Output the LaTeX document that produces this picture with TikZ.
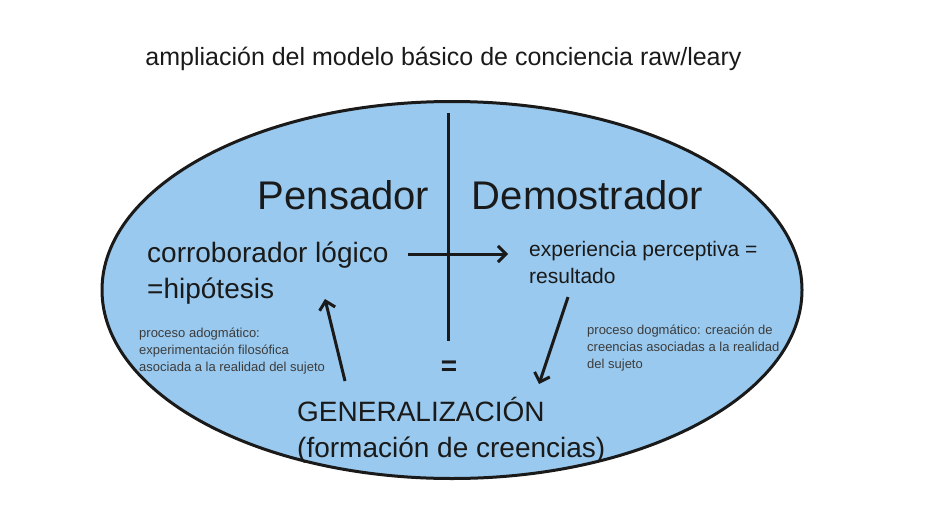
\documentclass[tikz,border=0pt]{standalone}
\usepackage{fontspec}
\setmainfont{Liberation Sans}
\usetikzlibrary{shapes.geometric,arrows.meta,positioning}

\definecolor{ovalblue}{RGB}{153,201,238}
\definecolor{ink}{RGB}{26,26,26}

\begin{document}
\begin{tikzpicture}[x=1pt,y=-1pt]
				\tikzstyle{Oval}	= [ellipse, draw=ink, line width=3pt, fill=ovalblue, minimum width=700pt, minimum height=377pt, inner sep=0pt]
				\tikzstyle{Txt}		= [inner sep=0pt, text=ink, align=left, anchor=base west]
				\tikzstyle{Big}		= [font=\fontsize{40}{48}\selectfont, anchor=base]
				\tikzstyle{Mid}		= [font=\fontsize{28}{36}\selectfont]
				\tikzstyle{Norm}	= [font=\fontsize{21}{26.5}\selectfont]
				\tikzstyle{Small}	= [font=\fontsize{13}{17}\selectfont, text=ink!85]
				\tikzstyle{Bar}		= [line width=3pt, draw=ink]
				\tikzstyle{Arr}		= [-{Straight Barb[length=8pt,width=16pt]}, line width=3pt, draw=ink]

				\useasboundingbox (0,0) rectangle (925,511);

				\node (title) at (443.5,65) [Txt][anchor=base][font=\fontsize{25}{30}\selectfont] {ampliación del modelo básico de conciencia raw/leary};

				\node (oval) at (452,290) [Oval] {};

				\node (pens) at (343.5,209) [Txt][Big] {Pensador};
				\node (demo) at (587.5,209) [Txt][Big] {Demostrador};

				% base anchor = last line
				\node (corr) at (147,298) [Txt][Mid] {corroborador lógico\\=hipótesis};
				\node (exp) at (529,283) [Txt][Norm] {experiencia perceptiva =\\resultado};
				\node (gen) at (297,457) [Txt][Mid] {GENERALIZACIÓN\\(formación de creencias)};
				\node (eq) at (449,368) [Txt][anchor=center][font=\fontsize{28}{28}\selectfont\bfseries] {=};

				\node (adog) at (139,371) [Txt][Small] {proceso adogmático:\\experimentación filosófica\\asociada a la realidad del sujeto};
				\node (dog) at (587,368) [Txt][Small] {proceso dogmático: creación de\\creencias asociadas a la realidad\\del sujeto};

				\coordinate (vtop) at (448,113);
				\coordinate (vbot) at (448,341);

				\draw (vtop) to (vbot) [Bar];
				\draw ([shift={(19,-44)}]corr.base east) to ([shift={(-21,-29)}]exp.base west) [Arr];
				\draw ([shift={(48,-76)}]gen.base west) to ([shift={(178,1)}]corr.base west) [Arr];
				\draw ([shift={(39,14)}]exp.base west) to ([shift={(242,-73)}]gen.base west) [Arr];
			\end{tikzpicture}
\end{document}
